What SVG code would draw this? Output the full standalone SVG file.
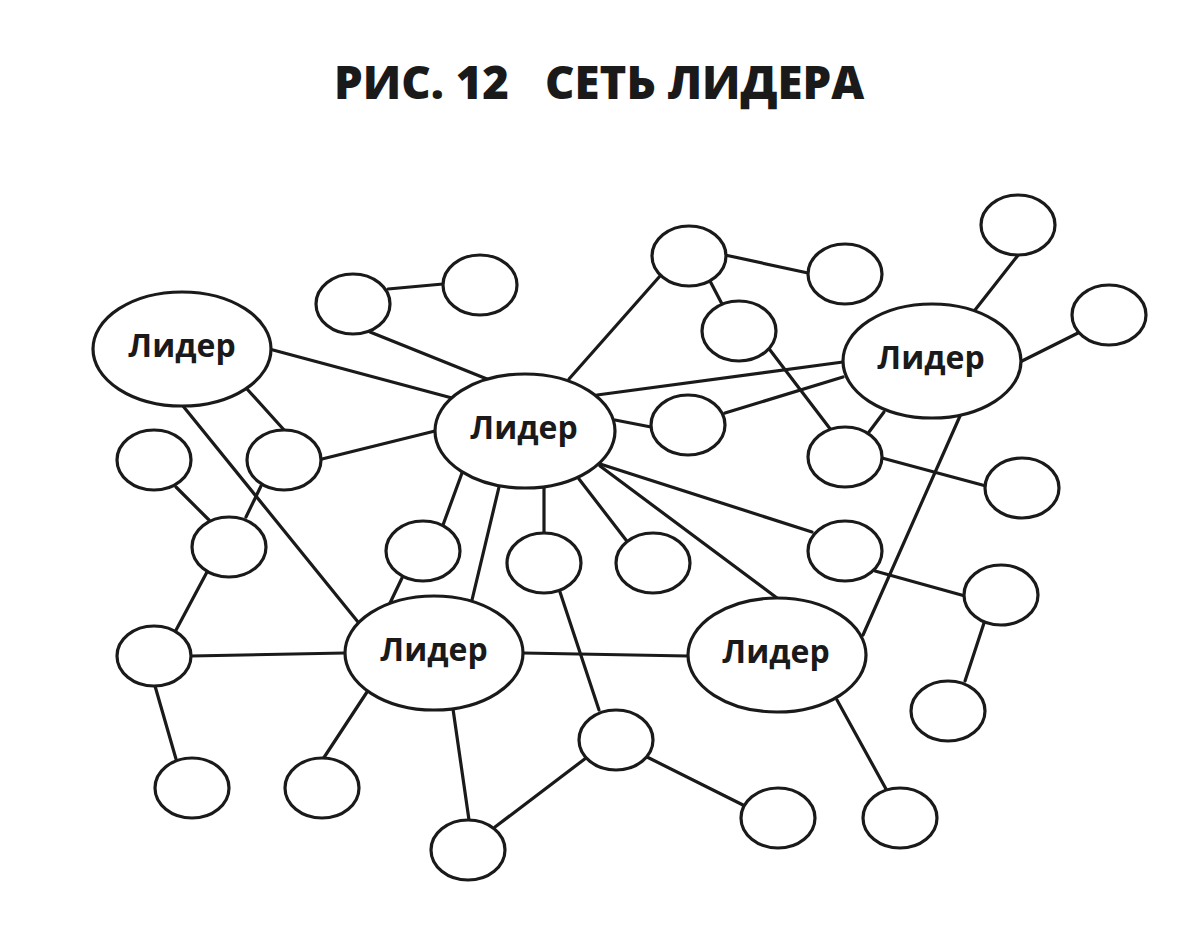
<svg xmlns="http://www.w3.org/2000/svg" width="1200" height="928" viewBox="0 0 1200 928">
<style>
.n{fill:#fff;stroke:#1a1a1a;stroke-width:3.2}
.c line{stroke:#1a1a1a;stroke-width:3.2;stroke-linecap:round}
.t{font-family:"Open Sans","Noto Sans","DejaVu Sans",sans-serif;font-weight:700;font-size:32px;fill:#1a1a1a;text-anchor:middle}
.h{font-family:"Open Sans","Noto Sans","DejaVu Sans",sans-serif;font-weight:800;font-size:45.5px;fill:#1a1a1a}
</style>
<rect width="1200" height="928" fill="#fff"/>
<g id="title">
<text class="h" x="334" y="99">РИС. 12</text>
<text class="h" x="545" y="99">СЕТЬ ЛИДЕРА</text>
</g>
<g id="connectors" class="c">
<line x1="388" y1="289" x2="443" y2="284"/>
<line x1="370" y1="332" x2="487" y2="379"/>
<line x1="273" y1="350" x2="452" y2="398"/>
<line x1="247" y1="389" x2="285" y2="431"/>
<line x1="183" y1="406" x2="358" y2="622"/>
<line x1="322" y1="459" x2="435" y2="431"/>
<line x1="261" y1="486" x2="246" y2="517"/>
<line x1="176" y1="487" x2="209" y2="520"/>
<line x1="207" y1="572" x2="175" y2="632"/>
<line x1="191" y1="656" x2="345" y2="653"/>
<line x1="155" y1="686" x2="176" y2="759"/>
<line x1="367" y1="692" x2="323" y2="759"/>
<line x1="453" y1="709" x2="469" y2="820"/>
<line x1="495" y1="827" x2="586" y2="758"/>
<line x1="647" y1="757" x2="745" y2="806"/>
<line x1="560" y1="592" x2="599" y2="710"/>
<line x1="523" y1="653" x2="688" y2="656"/>
<line x1="837" y1="700" x2="886" y2="789"/>
<line x1="600" y1="466" x2="777" y2="598"/>
<line x1="597" y1="463" x2="812" y2="532"/>
<line x1="875" y1="571" x2="965" y2="596"/>
<line x1="984" y1="623" x2="965" y2="681"/>
<line x1="863" y1="635" x2="960" y2="416"/>
<line x1="579" y1="479" x2="626" y2="540"/>
<line x1="544" y1="488" x2="544" y2="534"/>
<line x1="499" y1="487" x2="472" y2="600"/>
<line x1="462" y1="473" x2="443" y2="525"/>
<line x1="402" y1="578" x2="390" y2="603"/>
<line x1="569" y1="379" x2="660" y2="276"/>
<line x1="725" y1="255" x2="808" y2="273"/>
<line x1="710" y1="281" x2="722" y2="304"/>
<line x1="770" y1="350" x2="831" y2="430"/>
<line x1="597" y1="395" x2="843" y2="362"/>
<line x1="725" y1="413" x2="843" y2="377"/>
<line x1="615" y1="420" x2="651" y2="427"/>
<line x1="884" y1="412" x2="869" y2="432"/>
<line x1="882" y1="458" x2="986" y2="486"/>
<line x1="975" y1="310" x2="1019" y2="254"/>
<line x1="1020" y1="362" x2="1078" y2="333"/>
</g>
<g id="leader1"><ellipse class="n" cx="182" cy="349" rx="89" ry="57"/><text class="t" x="182" y="357">Лидер</text></g>
<g id="leader2"><ellipse class="n" cx="525" cy="431" rx="90" ry="57"/><text class="t" x="524" y="439">Лидер</text></g>
<g id="leader3"><ellipse class="n" cx="932" cy="361" rx="89" ry="57"/><text class="t" x="931" y="369">Лидер</text></g>
<g id="leader4"><ellipse class="n" cx="434" cy="653" rx="89" ry="57"/><text class="t" x="434" y="661">Лидер</text></g>
<g id="leader5"><ellipse class="n" cx="777" cy="655" rx="89" ry="57"/><text class="t" x="776" y="663">Лидер</text></g>
<g id="s1"><ellipse class="n" cx="353" cy="304" rx="37" ry="30"/></g>
<g id="s2"><ellipse class="n" cx="480" cy="285" rx="37" ry="30"/></g>
<g id="s3"><ellipse class="n" cx="689" cy="256" rx="37" ry="30"/></g>
<g id="s4"><ellipse class="n" cx="845" cy="274" rx="37" ry="30"/></g>
<g id="s5"><ellipse class="n" cx="739" cy="331" rx="37" ry="30"/></g>
<g id="s6"><ellipse class="n" cx="1018" cy="225" rx="37" ry="30"/></g>
<g id="s7"><ellipse class="n" cx="1109" cy="315" rx="37" ry="30"/></g>
<g id="s8"><ellipse class="n" cx="688" cy="425" rx="37" ry="30"/></g>
<g id="s9"><ellipse class="n" cx="845" cy="457" rx="37" ry="30"/></g>
<g id="s10"><ellipse class="n" cx="1022" cy="488" rx="37" ry="30"/></g>
<g id="s11"><ellipse class="n" cx="154" cy="460" rx="37" ry="30"/></g>
<g id="s12"><ellipse class="n" cx="284" cy="460" rx="37" ry="30"/></g>
<g id="s13"><ellipse class="n" cx="229" cy="547" rx="37" ry="30"/></g>
<g id="s14"><ellipse class="n" cx="423" cy="551" rx="37" ry="30"/></g>
<g id="s15"><ellipse class="n" cx="544" cy="563" rx="37" ry="30"/></g>
<g id="s16"><ellipse class="n" cx="653" cy="563" rx="37" ry="30"/></g>
<g id="s17"><ellipse class="n" cx="845" cy="551" rx="37" ry="30"/></g>
<g id="s18"><ellipse class="n" cx="1001" cy="595" rx="37" ry="30"/></g>
<g id="s19"><ellipse class="n" cx="154" cy="656" rx="37" ry="30"/></g>
<g id="s20"><ellipse class="n" cx="948" cy="711" rx="37" ry="30"/></g>
<g id="s21"><ellipse class="n" cx="192" cy="788" rx="37" ry="30"/></g>
<g id="s22"><ellipse class="n" cx="322" cy="788" rx="37" ry="30"/></g>
<g id="s23"><ellipse class="n" cx="616" cy="740" rx="37" ry="30"/></g>
<g id="s24"><ellipse class="n" cx="778" cy="818" rx="37" ry="30"/></g>
<g id="s25"><ellipse class="n" cx="900" cy="818" rx="37" ry="30"/></g>
<g id="s26"><ellipse class="n" cx="468" cy="850" rx="37" ry="30"/></g>
</svg>
